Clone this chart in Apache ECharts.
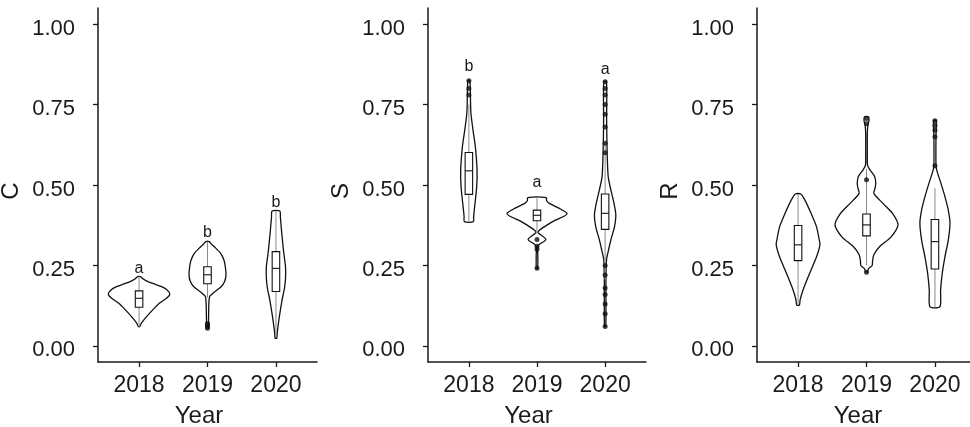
<!DOCTYPE html>
<html><head><meta charset="utf-8">
<script src="https://cdn.jsdelivr.net/npm/echarts@6/dist/echarts.min.js"></script>
<style>html,body{margin:0;padding:0;background:#fff}#c{width:970px;height:427px}</style>
</head><body><div id="c"></div>
<script>
const years = ['2018', '2019', '2020'];
const panelNames = ['C', 'S', 'R'];
const yTicks = [0, 0.25, 0.5, 0.75, 1];
const xName = 'Year';

// violin outlines per year: [value, half width (category units)], top to bottom
const violinC = [
  [[0.215,0.02],[0.208,0.06],[0.200,0.13],[0.192,0.23],[0.184,0.33],[0.174,0.41],[0.161,0.45],[0.148,0.40],[0.133,0.30],[0.112,0.20],[0.091,0.11],[0.071,0.035],[0.060,0.01]],
  [[0.324,0.025],[0.316,0.06],[0.308,0.10],[0.288,0.19],[0.267,0.24],[0.246,0.26],[0.220,0.27],[0.200,0.25],[0.184,0.20],[0.169,0.11],[0.160,0.06],[0.153,0.03],[0.133,0.02],[0.080,0.015],[0.055,0.015]],
  [[0.419,0.056],[0.400,0.065],[0.350,0.085],[0.288,0.115],[0.246,0.14],[0.210,0.14],[0.180,0.125],[0.143,0.09],[0.091,0.05],[0.060,0.03],[0.039,0.018],[0.024,0.012]]
];
const violinS = [
  [[0.824,0.015],[0.750,0.025],[0.723,0.03],[0.671,0.06],[0.619,0.095],[0.547,0.12],[0.495,0.115],[0.443,0.09],[0.402,0.07],[0.386,0.066]],
  [[0.461,0.137],[0.452,0.14],[0.443,0.18],[0.428,0.32],[0.412,0.44],[0.402,0.39],[0.391,0.27],[0.376,0.15],[0.360,0.04],[0.352,0.015],[0.331,0.13],[0.311,0.015],[0.280,0.012],[0.241,0.01]],
  [[0.821,0.02],[0.700,0.022],[0.600,0.03],[0.526,0.045],[0.484,0.085],[0.443,0.13],[0.407,0.157],[0.370,0.137],[0.334,0.09],[0.298,0.05],[0.267,0.02],[0.200,0.012],[0.060,0.01]]
];
const violinR = [
  [[0.472,0.04],[0.453,0.10],[0.412,0.19],[0.370,0.27],[0.329,0.31],[0.314,0.32],[0.277,0.27],[0.226,0.17],[0.174,0.073],[0.143,0.03],[0.127,0.02]],
  [[0.712,0.03],[0.700,0.036],[0.685,0.02],[0.660,0.012],[0.600,0.012],[0.562,0.015],[0.547,0.05],[0.526,0.12],[0.505,0.135],[0.490,0.125],[0.474,0.107],[0.443,0.24],[0.412,0.38],[0.376,0.46],[0.339,0.36],[0.308,0.19],[0.283,0.107],[0.262,0.088],[0.250,0.083],[0.240,0.03],[0.229,0.01]],
  [[0.700,0.02],[0.650,0.015],[0.562,0.015],[0.547,0.025],[0.505,0.088],[0.464,0.146],[0.422,0.195],[0.381,0.22],[0.329,0.195],[0.277,0.146],[0.226,0.107],[0.174,0.083],[0.122,0.073]]
];

// box stats per year: [lower whisker, Q1, median, Q3, upper whisker]
const boxC = [[0.060,0.120,0.148,0.171,0.215],[0.150,0.193,0.221,0.246,0.324],[0.030,0.169,0.241,0.293,0.419]];
const boxS = [[0.386,0.471,0.544,0.601,0.750],[0.350,0.389,0.406,0.422,0.461],[0.205,0.362,0.412,0.472,0.630]];
const boxR = [[0.127,0.265,0.314,0.374,0.472],[0.250,0.342,0.376,0.410,0.550],[0.122,0.239,0.324,0.393,0.490]];

// outliers per year
const outliersC = [[], [0.055,0.060,0.065,0.070], []];
const outliersS = [[0.824,0.800,0.780], [0.331,0.310,0.300,0.241], [0.821,0.800,0.780,0.750,0.720,0.680,0.630,0.600,0.250,0.220,0.180,0.160,0.130,0.100,0.060]];
const outliersR = [[], [0.707,0.690,0.516,0.229], [0.700,0.685,0.670,0.650,0.560]];

// significance letters
const lettersC = ['a', 'b', 'b'];
const letterYC = [0.246, 0.358, 0.453];
const lettersS = ['b', 'a', 'a'];
const letterYS = [0.873, 0.514, 0.864];
const lettersR = [];
const letterYR = [];

const FONT = '"Liberation Sans", Arial, sans-serif';
const INK = '#1a1a1a';
const grids = [
  {left: 98, top: 8, width: 219, height: 354, outerBoundsMode: 'none', containLabel: false},
  {left: 428, top: 8, width: 218, height: 354, outerBoundsMode: 'none', containLabel: false},
  {left: 757, top: 8, width: 219, height: 354, outerBoundsMode: 'none', containLabel: false}
];
const panels = [
  {violins: violinC, boxes: boxC, outliers: outliersC, letters: lettersC, letterY: letterYC},
  {violins: violinS, boxes: boxS, outliers: outliersS, letters: lettersS, letterY: letterYS},
  {violins: violinR, boxes: boxR, outliers: outliersR, letters: lettersR, letterY: letterYR}
];

const xAxes = [], yAxes = [], series = [];
panels.forEach((p, g) => {
  xAxes.push({
    gridIndex: g, type: 'value', min: 0.4, max: 3.6,
    axisLine: {show: true, onZero: false, lineStyle: {color: INK, width: 1.5}},
    axisTick: {show: true, length: 5, customValues: [1, 2, 3], lineStyle: {color: INK, width: 1.3}},
    axisLabel: {customValues: [1, 2, 3], formatter: v => years[Math.round(v) - 1], margin: 12,
      fontSize: 23, fontFamily: FONT, color: INK},
    splitLine: {show: false},
    name: xName, nameLocation: 'middle', nameGap: 42,
    nameTextStyle: {fontSize: 24, fontFamily: FONT, color: INK, padding: [0, 17, 0, 0]}
  });
  yAxes.push({
    gridIndex: g, type: 'value', min: -0.05, max: 1.05,
    axisLine: {show: true, onZero: false, lineStyle: {color: INK, width: 1.5}},
    axisTick: {show: true, length: 5, customValues: yTicks, lineStyle: {color: INK, width: 1.3}},
    axisLabel: {customValues: yTicks, formatter: v => '{t|' + v.toFixed(2) + '}', margin: 23,
      rich: {t: {fontSize: 22, fontFamily: FONT, color: INK, padding: [9, 0, 0, 0]}}},
    splitLine: {show: false},
    name: panelNames[g], nameLocation: 'middle', nameGap: 75, nameRotate: 90,
    nameTextStyle: {fontSize: 24, fontFamily: FONT, color: INK, padding: [0, 12, 0, 0]}
  });
  // violins
  series.push({
    type: 'custom', xAxisIndex: g, yAxisIndex: g, silent: true,
    data: years.map((y, i) => [i + 1, 0]),
    renderItem: (params, api) => {
      const i = params.dataIndex;
      const prof = p.violins[i];
      const cx = i + 1;
      const right = prof.map(([v, h]) => api.coord([cx + h, v]));
      const left = prof.slice().reverse().map(([v, h]) => api.coord([cx - h, v]));
      return {type: 'polygon', shape: {points: right.concat(left), smooth: 0.25},
        style: {fill: 'none', stroke: '#111', lineWidth: 1.3}};
    }
  });
  // boxes
  series.push({
    type: 'custom', xAxisIndex: g, yAxisIndex: g, silent: true,
    data: p.boxes.map((b, i) => [i + 1].concat(b)),
    renderItem: (params, api) => {
      const cx = api.value(0);
      const hw = 0.055;
      const lo = api.coord([cx, api.value(1)]);
      const q1 = api.coord([cx - hw, api.value(2)]);
      const md1 = api.coord([cx - hw, api.value(3)]);
      const md2 = api.coord([cx + hw, api.value(3)]);
      const q3 = api.coord([cx + hw, api.value(4)]);
      const hi = api.coord([cx, api.value(5)]);
      return {type: 'group', children: [
        {type: 'line', shape: {x1: lo[0], y1: lo[1], x2: hi[0], y2: hi[1]}, style: {stroke: '#8a8a8a', lineWidth: 1}},
        {type: 'rect', shape: {x: q1[0], y: q3[1], width: q3[0] - q1[0], height: q1[1] - q3[1]},
          style: {fill: '#fff', stroke: '#111', lineWidth: 1.1}},
        {type: 'line', shape: {x1: md1[0], y1: md1[1], x2: md2[0], y2: md2[1]}, style: {stroke: '#111', lineWidth: 1.1}}
      ]};
    }
  });
  // outliers
  const pts = [];
  p.outliers.forEach((arr, i) => arr.forEach(v => pts.push([i + 1, v])));
  series.push({
    type: 'scatter', xAxisIndex: g, yAxisIndex: g, silent: true,
    data: pts, symbol: 'circle', symbolSize: 5, itemStyle: {color: '#111'}
  });
  // letters
  series.push({
    type: 'custom', xAxisIndex: g, yAxisIndex: g, silent: true,
    data: p.letters.map((t, i) => [i + 1, p.letterY[i]]),
    renderItem: (params, api) => {
      const c = api.coord([api.value(0), api.value(1)]);
      return {type: 'text', x: c[0], y: c[1] + 2, style: {text: p.letters[params.dataIndex],
        font: '16px ' + FONT, fill: INK, align: 'center', verticalAlign: 'middle'}};
    }
  });
});

const chart = echarts.init(document.getElementById('c'), null, {renderer: 'canvas'});
chart.setOption({
  animation: false,
  backgroundColor: '#fff',
  grid: grids,
  xAxis: xAxes,
  yAxis: yAxes,
  series: series
});
</script>
</body></html>
